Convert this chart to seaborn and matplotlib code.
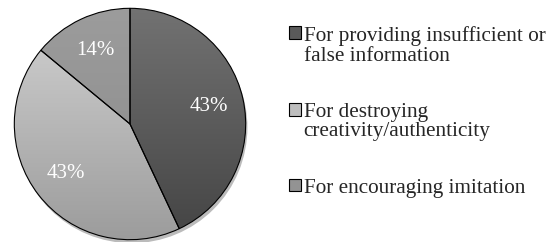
import numpy as np
import matplotlib.pyplot as plt
import seaborn as sns
from matplotlib.colors import LinearSegmentedColormap

sns.set_theme(style="white")
plt.rcParams['font.family'] = ['Liberation Serif', 'DejaVu Serif']

# ── Data ──────────────────────────────────────────────────────────────────────
labels = ["For providing insufficient or\nfalse information",
          "For destroying\ncreativity/authenticity",
          "For encouraging imitation"]
shares = [43, 43, 14]
pct_labels = ["43%", "43%", "14%"]

# top / bottom shade of each slice (Excel-like gradient)
top_cols = ["#727272", "#d2d2d2", "#9c9c9c"]
bot_cols = ["#444444", "#9c9c9c", "#8a8a8a"]

# ── Figure ────────────────────────────────────────────────────────────────────
fig = plt.figure(figsize=(5.5, 2.49), dpi=100)
ax = fig.add_axes([12 / 550, 7 / 249, 236 / 550, 236 / 249])

# soft shadow under the pie
shadow = plt.Circle((0.015, -0.03), 1.0, color="#bbbbbb", zorder=0, lw=0)
ax.add_patch(shadow)

wedges, texts, autotexts = ax.pie(
    shares, startangle=90, counterclock=False,
    autopct="%1.0f%%", pctdistance=0.7,
    wedgeprops=dict(edgecolor="black", linewidth=0.8),
    textprops=dict(color="white", fontsize=15),
)

grad = np.linspace(1, 0, 256).reshape(-1, 1)
for w, c1, c2, t, lab in zip(wedges, top_cols, bot_cols, autotexts, pct_labels):
    cmap = LinearSegmentedColormap.from_list("g", [c2, c1])
    im = ax.imshow(grad, cmap=cmap, extent=(-1, 1, -1, 1), aspect="auto",
                   zorder=w.get_zorder() + 0.1, origin="upper")
    im.set_clip_path(w)
    t.set_text(lab)
    t.set_zorder(5)
    w.set_facecolor("none")
    w.set_zorder(w.get_zorder() + 0.2)

ax.set_xlim(-1.02, 1.02)
ax.set_ylim(-1.02, 1.02)
ax.set_aspect("equal")
ax.axis("off")

# legend handles use the mid colour of each slice
handles = [plt.Rectangle((0, 0), 1, 1, facecolor=c, edgecolor="black", linewidth=0.8)
           for c in ["#5a5a5a", "#bdbdbd", "#939393"]]
leg = fig.legend(handles, labels, loc="upper left", bbox_to_anchor=(289 / 550, 1 - 26 / 249),
                 frameon=False, fontsize=15.3, handlelength=0.55, handleheight=0.55,
                 handletextpad=0.14, labelspacing=1.75, borderpad=0, borderaxespad=0)
for col in leg._legend_handle_box.get_children():
    for item in col.get_children():
        item.align = "top"
for t in leg.get_texts():
    t.set_linespacing(1.05)
    t.set_multialignment("left")

fig.savefig("out.png", dpi=100)
